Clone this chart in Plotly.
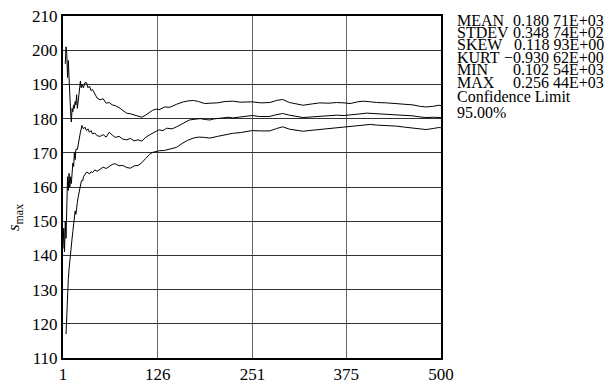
import plotly.graph_objects as go

# running mean
n_mean = [1,2,3,4,5,6,7,8,9,10,11,12,13,14,15,16,17,18,20,22,24,26,28,30,32,34,36,38,40,43,46,50,54,58,62,66,70,75,80,85,90,95,100,105,110,115,119,124,128,133,138,145,151,158,163,168,175,182,190,195,200,210,220,225,235,245,251,260,273,282,291,300,310,318,330,340,352,362,372,380,390,402,415,430,441,455,463,472,480,490,500]
mean_vals = [142,148,141,150,145,158,163,159,164,160,163,161,165,167,166,170,168,171,171,174,176,178,177,177.5,176.5,177,176,176.5,175.5,175.8,175,174.8,175.3,174.6,176,175.2,174.5,174.8,174,173.8,174.2,173.5,173.8,173.4,174.5,175.2,175.8,176.3,176.7,176.5,177.2,177,177.6,178.4,179.2,179.6,179.8,180,179.7,179.6,179.9,180.1,180.4,180.2,180.5,180.7,180.9,180.6,180.6,181.1,181.5,181,180.5,180.3,180.5,180.7,180.9,181,180.9,181,181.3,181.6,181.4,181.3,181.2,181,180.8,180.5,180.3,180.4,180.3]

# upper confidence limit
n_upper = [4,5,6,7,8,9,10,11,12,13,14,15,16,17,18,19,20,21,22,23,24,25,26,28,30,32,34,36,38,40,43,46,50,54,58,62,66,70,75,80,85,90,95,100,105,110,115,119,124,128,135,142,151,160,167,173,180,188,195,205,215,225,235,245,251,262,274,283,291,300,310,318,330,340,352,362,372,380,390,397,407,415,428,441,452,463,472,480,490,497,500]
upper_vals = [196,201,199,192,197,190,186,182,179,183,182,184,183,185,184,187,183,186,187,189,191,189,190,189,190.5,190.5,189,189.5,188.2,188.5,187,186,185.5,185.8,184.5,184.7,184,183.8,183.2,182.3,181.6,181.4,181,180.8,180.4,181,181.8,182.4,182.8,182.6,183.4,183.3,184.2,184.9,185.2,185.3,185,184.4,184.5,184.6,185,185.1,184.8,184.9,184.9,184.6,184.7,185.3,185.6,184.7,184.3,183.9,184.3,184.6,184.5,184.7,184.6,184.4,184.9,185.1,184.9,184.7,184.6,184.4,184.3,184,183.6,183.4,183.6,183.9,183.8]

# lower confidence limit
n_lower = [5,6,7,8,9,10,11,12,13,14,15,16,17,18,19,20,21,22,23,24,25,26,27,28,30,32,34,36,38,40,43,46,50,54,58,62,66,70,75,80,85,90,95,100,105,110,115,119,124,128,135,142,151,158,165,173,180,188,195,205,215,225,235,245,251,262,274,283,291,300,310,318,330,340,352,362,372,380,390,400,407,415,428,441,452,463,472,480,490,497,500]
lower_vals = [117,124,130,133,136,139,140,143,145,147,149,150,153,152,155,155.5,157,158.5,160,161,161.5,162,161.8,163,163.5,164.3,164.2,163.8,164.5,164.2,165,164.6,165.2,165.8,165.4,165.9,166.6,166.8,166.2,166.3,165.7,165.5,166.2,166.3,167.1,168.3,169.5,170.1,170.4,170.6,170.7,171.1,171.6,172.7,173.6,174.3,174.6,174.5,174.3,174.8,175.3,175.7,175.9,176.2,176.5,176.4,176.4,177.1,177.6,176.9,176.5,176.3,176.6,176.8,177.1,177.4,177.5,177.6,177.9,178.2,178.3,178.1,178,177.8,177.5,177.2,176.9,176.8,177.1,177.4,177.3]

x_ticks = [1, 126, 251, 375, 500]
y_ticks = list(range(110, 211, 10))

stat_labels = ["MEAN", "STDEV", "SKEW", "KURT", "MIN", "MAX"]
stat_values = ["0.180 71E+03", "0.348 74E+02", "0.118 93E+00", "\u22120.930 62E+00", "0.102 54E+03", "0.256 44E+03"]
conf_title = "Confidence Limit"
conf_value = "95.00%"
y_title = "<i>s</i><sub>max</sub>"

FONT = "Liberation Serif, Times New Roman, serif"

fig = go.Figure()
for xs, ys in [(n_upper, upper_vals), (n_mean, mean_vals), (n_lower, lower_vals)]:
    fig.add_trace(go.Scatter(x=xs, y=ys, mode="lines",
                             line=dict(color="black", width=1), showlegend=False))

L, R, T, B = 63, 165, 16, 27
W, H = 606, 385
pw = W - L - R
ph = H - T - B

def px_to_paper_x(px):
    return (px - L) / pw

def py_to_paper_y(py):
    return (H - B - py) / ph

annotations = []
row_y = [20, 32.5, 45, 57.5, 69.5, 82]
for lab, val, yy in zip(stat_labels, stat_values, row_y):
    annotations.append(dict(x=px_to_paper_x(455), y=py_to_paper_y(yy), xref="paper", yref="paper",
                            text=lab, showarrow=False, xanchor="left", yanchor="middle",
                            font=dict(family=FONT, size=16, color="black")))
    annotations.append(dict(x=px_to_paper_x(606), y=py_to_paper_y(yy), xref="paper", yref="paper",
                            text=val, showarrow=False, xanchor="right", yanchor="middle",
                            font=dict(family=FONT, size=16, color="black")))
annotations.append(dict(x=px_to_paper_x(455), y=py_to_paper_y(97), xref="paper", yref="paper",
                        text=conf_title, showarrow=False, xanchor="left", yanchor="middle",
                        font=dict(family=FONT, size=16, color="black")))
annotations.append(dict(x=px_to_paper_x(455), y=py_to_paper_y(113), xref="paper", yref="paper",
                        text=conf_value, showarrow=False, xanchor="left", yanchor="middle",
                        font=dict(family=FONT, size=16, color="black")))
annotations.append(dict(x=px_to_paper_x(15), y=py_to_paper_y(218), xref="paper", yref="paper",
                        text=y_title, showarrow=False, textangle=-90,
                        xanchor="center", yanchor="middle",
                        font=dict(family=FONT, size=17, color="black")))

fig.update_layout(
    width=W, height=H,
    margin=dict(l=L, r=R, t=T, b=B, pad=0, autoexpand=False),
    paper_bgcolor="white", plot_bgcolor="white",
    font=dict(family=FONT, size=17, color="black"),
    annotations=annotations,
    xaxis=dict(range=[1, 500], tickmode="array", tickvals=x_ticks,
               ticktext=[str(v) for v in x_ticks],
               showgrid=True, gridcolor="#666666", gridwidth=1,
               showline=True, linecolor="black", linewidth=2, mirror=True,
               ticks="", zeroline=False, tickfont=dict(size=17), automargin=False),
    yaxis=dict(range=[110, 210], tickmode="array", tickvals=y_ticks,
               ticktext=[str(v) for v in y_ticks],
               showgrid=True, gridcolor="#333333", gridwidth=1,
               showline=True, linecolor="black", linewidth=2, mirror=True,
               ticks="", zeroline=False, tickfont=dict(size=17),
               automargin=False),
)

fig.write_html("out.html")
